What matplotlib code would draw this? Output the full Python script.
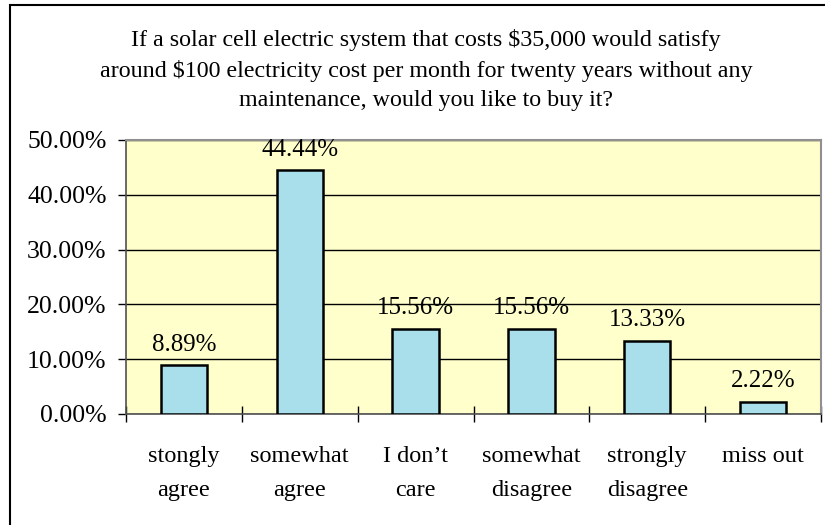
import numpy as np
import matplotlib.pyplot as plt
from matplotlib.patches import Rectangle

categories = ['stongly\nagree', 'somewhat\nagree', 'I don\u2019t\ncare',
              'somewhat\ndisagree', 'strongly\ndisagree', 'miss out']
shares = [8.89, 44.44, 15.56, 15.56, 13.33, 2.22]
yticks = [0, 10, 20, 30, 40, 50]

title = ('If a solar cell electric system that costs $35,000 would satisfy\n'
         'around $100 electricity cost per month for twenty years without any\n'
         'maintenance, would you like to buy it?')

plt.rcParams['font.family'] = ['Liberation Serif', 'DejaVu Serif']

fig = plt.figure(figsize=(8.25, 5.25), dpi=100)
ax = fig.add_axes([126 / 825, 1 - 414 / 525, (821 - 126) / 825, (414 - 140) / 525])

# outer chart frame
fig.patches.append(Rectangle((10 / 825, -0.1), 1.2, 1 - 5 / 525 + 0.1,
                             transform=fig.transFigure, fill=False,
                             edgecolor='black', linewidth=1.5))

ax.set_facecolor('#ffffcc')
x = np.arange(len(categories))
ax.bar(x, shares, width=0.4, color='#a9dfeb', edgecolor='black', linewidth=1.8, zorder=3)

for xi, v in zip(x, shares):
    ax.annotate(f'{v:.2f}%', (xi, v), xytext=(0, 7), textcoords='offset points',
                ha='center', va='bottom', fontsize=18)

ax.set_xlim(-0.5, len(categories) - 0.5)
ax.set_ylim(0, 50)
ax.set_yticks(yticks)
ax.set_yticklabels([f'{t:.2f}%' for t in yticks], fontsize=18.5)
ax.yaxis.grid(True, color='black', linewidth=1)
ax.set_axisbelow(True)

ax.set_xticks(x)
ax.set_xticklabels(categories, fontsize=17.5, va='top', linespacing=1.8)
ax.set_xticks(np.arange(len(categories) + 1) - 0.5, minor=True)
ax.tick_params(axis='x', which='major', length=0, pad=23)
ax.tick_params(axis='x', which='minor', direction='inout', length=12, width=1)
ax.tick_params(axis='y', direction='out', length=6, width=1, pad=8)

for s in ['top', 'right']:
    ax.spines[s].set_color('#909090')
    ax.spines[s].set_linewidth(1.5)
for s in ['left', 'bottom']:
    ax.spines[s].set_color('#505050')
    ax.spines[s].set_linewidth(1.2)

fig.text(426 / 825, 1 - 70 / 525, title, ha='center', va='center', fontsize=17.3,
         linespacing=1.5)

fig.savefig('out.png', dpi=100)
